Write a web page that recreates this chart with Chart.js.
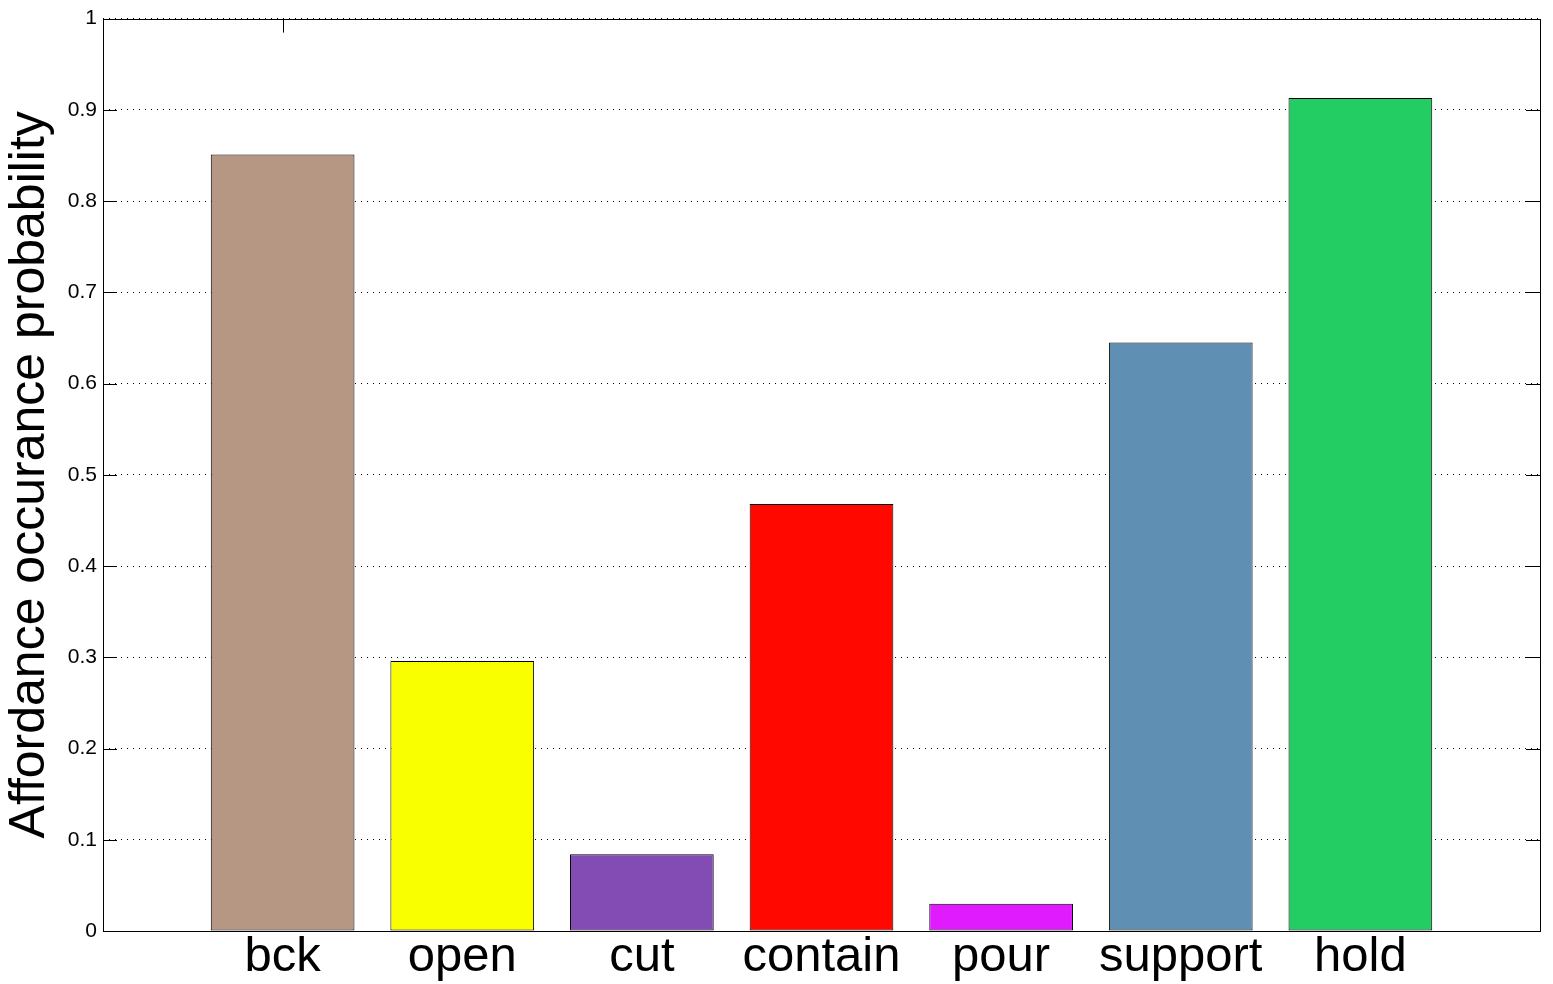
<!DOCTYPE html>
<html>
<head>
<meta charset="utf-8">
<script src="https://cdn.jsdelivr.net/npm/chart.js@4.4.0/dist/chart.umd.min.js"></script>
<style>
  body { margin: 0; background: #fff; }
  #wrap { width: 1553px; height: 984px; }
</style>
</head>
<body>
<div id="wrap"><canvas id="graficoAfford"></canvas></div>
<script>
// datos
const categorias = ['bck', 'open', 'cut', 'contain', 'pour', 'support', 'hold'];
const probabilidades = [0.851, 0.296, 0.084, 0.468, 0.030, 0.645, 0.913];
const colores = ['#b59783', '#faff00', '#834bb4', '#ff0800', '#e01cff', '#5f8fb3', '#24cd64'];
const yTicks = [0, 0.1, 0.2, 0.3, 0.4, 0.5, 0.6, 0.7, 0.8, 0.9, 1];
const tituloY = 'Affordance occurance probability';

// empty slot at both ends so the axis runs 0..8 like the original
const etiquetas = [''].concat(categorias, ['']);
const valores = [null].concat(probabilidades, [null]);
const fondo = ['#fff'].concat(colores, ['#fff']);

const FONT = '"Liberation Sans", Arial, Helvetica, sans-serif';

// box, inner ticks and the lone top tick (matlab style)
const cajaPlugin = {
    id: 'caja',
    afterDatasetsDraw(chart) {
        const {ctx, chartArea: a, scales} = chart;
        ctx.save();
        ctx.strokeStyle = '#000';
        ctx.lineWidth = 1;
        ctx.beginPath();
        yTicks.forEach(v => {
            const y = Math.round(scales.y.getPixelForValue(v)) + 0.5;
            ctx.moveTo(a.left, y); ctx.lineTo(a.left + 14, y);
            ctx.moveTo(a.right - 14, y); ctx.lineTo(a.right, y);
        });
        const xt = Math.round(scales.x.getPixelForValue(1)) + 0.5;
        ctx.moveTo(xt, a.top); ctx.lineTo(xt, a.top + 14);
        ctx.stroke();
        ctx.strokeRect(Math.round(a.left) + 0.5, Math.round(a.top) + 0.5,
            Math.round(a.right - a.left), Math.round(a.bottom - a.top));
        ctx.restore();
    }
};

const ctxAfford = document.getElementById('graficoAfford');

let affordChart = new Chart(ctxAfford, {
    type: 'bar',
    data: {
        labels: etiquetas,
        datasets: [{
            data: valores,
            backgroundColor: fondo,
            borderColor: '#000',
            borderWidth: 1,
            borderSkipped: false,
            barPercentage: 0.8,
            categoryPercentage: 1
        }]
    },
    options: {
        responsive: true,
        maintainAspectRatio: false,
        animation: false,
        layout: { padding: { top: 16, right: 13, left: -2, bottom: 0 } },
        plugins: {
            legend: { display: false },
            tooltip: { enabled: false }
        },
        scales: {
            x: {
                type: 'category',
                offset: false,
                grid: { display: false, drawTicks: false },
                border: { display: false },
                ticks: {
                    color: '#000',
                    font: { family: FONT, size: 49 },
                    padding: -3,
                    maxRotation: 0,
                    autoSkip: false
                },
                afterFit(scale) { scale.height = 53; }
            },
            y: {
                min: 0,
                max: 1,
                grid: {
                    color: '#000',
                    lineWidth: 1,
                    drawTicks: false
                },
                border: { display: false, dash: [1, 5] },
                ticks: {
                    stepSize: 0.1,
                    color: '#000',
                    padding: 6,
                    font: { family: FONT, size: 21 },
                    callback: v => String(Math.round(v * 10) / 10)
                },
                title: {
                    display: true,
                    text: tituloY,
                    color: '#000',
                    font: { family: FONT, size: 50 },
                    padding: { top: 2, bottom: 0 }
                },
                afterFit(scale) { scale.width = 105; }
            }
        }
    },
    plugins: [cajaPlugin]
});
</script>
</body>
</html>
